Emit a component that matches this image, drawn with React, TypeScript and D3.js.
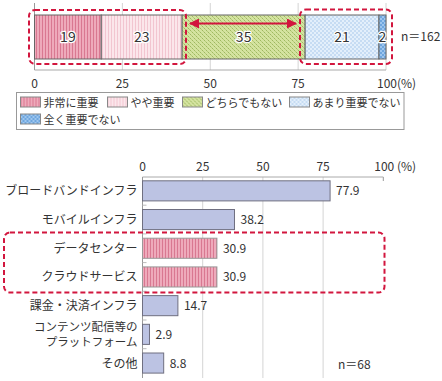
import React, { useEffect, useRef } from "react";
import * as d3 from "d3";

const topCategories = ["非常に重要", "やや重要", "どちらでもない", "あまり重要でない", "全く重要でない"];
const topValues = [19, 23, 35, 21, 2];
const topN = "n＝162";
const xTicks = [0, 25, 50, 75, 100];

const barCategories = [
  "ブロードバンドインフラ",
  "モバイルインフラ",
  "データセンター",
  "クラウドサービス",
  "課金・決済インフラ",
  "コンテンツ配信等の\nプラットフォーム",
  "その他",
];
const barValues = [77.9, 38.2, 30.9, 30.9, 14.7, 2.9, 8.8];
const highlighted = [false, false, true, true, false, false, false];
const bottomN = "n＝68";

const FONT = "'Noto Sans CJK JP', 'Noto Sans', sans-serif";
const RED = "#d2163e";

export default function App() {
  const ref = useRef<SVGSVGElement>(null);

  useEffect(() => {
    const svg = d3.select(ref.current);
    svg.selectAll("*").remove();
    svg.attr("font-family", FONT);

    const defs = svg.append("defs");
    const p1 = defs.append("pattern").attr("id", "p1").attr("width", 3).attr("height", 4).attr("patternUnits", "userSpaceOnUse");
    p1.append("rect").attr("width", 3).attr("height", 4).attr("fill", "#eeaabb");
    p1.append("rect").attr("width", 1).attr("height", 4).attr("fill", "#d97891");

    const p2 = defs.append("pattern").attr("id", "p2").attr("width", 3).attr("height", 4).attr("patternUnits", "userSpaceOnUse");
    p2.append("rect").attr("width", 3).attr("height", 4).attr("fill", "#fbe6eb");
    p2.append("rect").attr("width", 1).attr("height", 4).attr("fill", "#f2c5d0");

    const p3 = defs.append("pattern").attr("id", "p3").attr("width", 4).attr("height", 4).attr("patternUnits", "userSpaceOnUse");
    p3.append("rect").attr("width", 4).attr("height", 4).attr("fill", "#d4e3a0");
    p3.append("rect").attr("x", 0).attr("y", 0).attr("width", 1).attr("height", 1).attr("fill", "#9fb861");
    p3.append("rect").attr("x", 2).attr("y", 2).attr("width", 1).attr("height", 1).attr("fill", "#9fb861");
    p3.append("rect").attr("x", 1).attr("y", 1).attr("width", 1).attr("height", 1).attr("fill", "#b7cc7c");
    p3.append("rect").attr("x", 3).attr("y", 3).attr("width", 1).attr("height", 1).attr("fill", "#b7cc7c");

    const p4 = defs.append("pattern").attr("id", "p4").attr("width", 4).attr("height", 4).attr("patternUnits", "userSpaceOnUse");
    p4.append("rect").attr("width", 4).attr("height", 4).attr("fill", "#e3effb");
    p4.append("rect").attr("x", 0).attr("y", 0).attr("width", 2).attr("height", 2).attr("fill", "#c6dcf3");
    p4.append("rect").attr("x", 2).attr("y", 2).attr("width", 2).attr("height", 2).attr("fill", "#c6dcf3");

    const p5 = defs.append("pattern").attr("id", "p5").attr("width", 4).attr("height", 4).attr("patternUnits", "userSpaceOnUse");
    p5.append("rect").attr("width", 4).attr("height", 4).attr("fill", "#9ec6ee");
    p5.append("rect").attr("x", 0).attr("y", 0).attr("width", 2).attr("height", 2).attr("fill", "#6ea6de");
    p5.append("rect").attr("x", 2).attr("y", 2).attr("width", 2).attr("height", 2).attr("fill", "#6ea6de");

    const pats = ["url(#p1)", "url(#p2)", "url(#p3)", "url(#p4)", "url(#p5)"];

    const mk = defs.append("marker").attr("id", "arrowEnd").attr("viewBox", "0 0 10 10").attr("refX", 9).attr("refY", 5)
      .attr("markerWidth", 5).attr("markerHeight", 5).attr("markerUnits", "strokeWidth").attr("orient", "auto-start-reverse");
    mk.append("path").attr("d", "M0,0 L10,5 L0,10 z").attr("fill", RED);

    // ---------- Top stacked bar ----------
    const xt = d3.scaleLinear().domain([0, 100]).range([34.5, 386]);
    const topY0 = 15, topH = 44, topAxisY = 70;

    const g1 = svg.append("g");
    g1.selectAll("line.grid").data(xTicks.slice(1)).join("line")
      .attr("x1", d => xt(d)).attr("x2", d => xt(d)).attr("y1", 3).attr("y2", topAxisY)
      .attr("stroke", "#d4d4d4").attr("stroke-width", 1);
    g1.append("line").attr("x1", xt(0)).attr("x2", xt(0)).attr("y1", 3).attr("y2", topAxisY).attr("stroke", "#999");
    g1.append("line").attr("x1", xt(0)).attr("x2", xt(100)).attr("y1", topAxisY).attr("y2", topAxisY).attr("stroke", "#aaa");

    const cum = d3.cumsum(topValues);
    const segs = topValues.map((v, i) => ({ v, start: cum[i] - v, end: cum[i], i }));
    g1.selectAll("rect.seg").data(segs).join("rect")
      .attr("x", d => xt(d.start)).attr("y", topY0)
      .attr("width", d => xt(d.end) - xt(d.start)).attr("height", topH)
      .attr("fill", d => pats[d.i]).attr("stroke", "#666").attr("stroke-width", 1);
    g1.selectAll("text.seg").data(segs).join("text")
      .attr("x", d => (xt(d.start) + xt(d.end)) / 2)
      .attr("y", topY0 + topH / 2 + 5)
      .attr("text-anchor", "middle")
      .attr("font-size", 14).attr("fill", "#333")
      .attr("stroke", "#fff").attr("stroke-width", 2.5).attr("paint-order", "stroke").attr("stroke-linejoin", "round")
      .text(d => d.v);

    g1.selectAll("text.tick").data(xTicks).join("text")
      .attr("x", d => (d === 100 ? xt(d) - 9 : xt(d)))
      .attr("y", 88).attr("text-anchor", d => (d === 100 ? "start" : "middle"))
      .attr("font-size", 12).attr("fill", "#333")
      .text(d => (d === 100 ? "100(%)" : String(d)));
    g1.append("text").attr("x", 401).attr("y", 41).attr("font-size", 12).attr("fill", "#333").text(topN);

    g1.append("rect").attr("x", 29).attr("y", 10).attr("width", 157).attr("height", 54).attr("rx", 6)
      .attr("fill", "none").attr("stroke", RED).attr("stroke-width", 2).attr("stroke-dasharray", "5,3");
    g1.append("rect").attr("x", 300).attr("y", 9.5).attr("width", 92).attr("height", 54.5).attr("rx", 6)
      .attr("fill", "none").attr("stroke", RED).attr("stroke-width", 2).attr("stroke-dasharray", "5,3");
    g1.append("line").attr("x1", 190).attr("x2", 296).attr("y1", 23.5).attr("y2", 23.5)
      .attr("stroke", RED).attr("stroke-width", 2)
      .attr("marker-start", "url(#arrowEnd)").attr("marker-end", "url(#arrowEnd)");

    // legend
    const lg = svg.append("g");
    lg.append("rect").attr("x", 16.5).attr("y", 92.5).attr("width", 387.5).attr("height", 37)
      .attr("fill", "#fff").attr("stroke", "#999");
    const legPos = [
      { x: 20.5, y: 97 }, { x: 107.5, y: 97 }, { x: 182.5, y: 97 }, { x: 289.5, y: 97 }, { x: 20.5, y: 114 },
    ];
    const items = lg.selectAll("g.item").data(topCategories).join("g")
      .attr("transform", (d, i) => `translate(${legPos[i].x},${legPos[i].y})`);
    items.append("rect").attr("width", 20).attr("height", 10).attr("fill", (d, i) => pats[i]).attr("stroke", "#888");
    items.append("text").attr("x", 23).attr("y", 9.5).attr("font-size", 11).attr("fill", "#333").text(d => d);

    // ---------- Bottom bar chart ----------
    const xb = d3.scaleLinear().domain([0, 100]).range([142.5, 383.3]);
    const yb = d3.scaleBand<number>().domain(d3.range(barCategories.length)).range([176.5, 377.4]).paddingInner(0.3).paddingOuter(0.15);
    const axisY = 177;
    const bottomY = 378;
    const g2 = svg.append("g");
    g2.selectAll("line.grid").data([25, 50, 75]).join("line")
      .attr("x1", d => xb(d)).attr("x2", d => xb(d)).attr("y1", axisY).attr("y2", bottomY)
      .attr("stroke", "#d4d4d4");
    g2.append("line").attr("x1", xb(100)).attr("x2", xb(100)).attr("y1", axisY).attr("y2", axisY + 4).attr("stroke", "#999");
    g2.append("line").attr("x1", xb(0)).attr("x2", xb(100)).attr("y1", axisY).attr("y2", axisY).attr("stroke", "#aaa");
    g2.append("line").attr("x1", xb(0)).attr("x2", xb(0)).attr("y1", axisY).attr("y2", bottomY).attr("stroke", "#999");
    const step = yb.step();
    g2.selectAll("line.sep").data(d3.range(1, barCategories.length)).join("line")
      .attr("x1", xb(0)).attr("x2", xb(0) + 4)
      .attr("y1", d => 176.5 + d * step).attr("y2", d => 176.5 + d * step)
      .attr("stroke", "#bbb");

    g2.selectAll("text.tick").data(xTicks).join("text")
      .attr("x", d => (d === 100 ? xb(d) - 9 : xb(d)))
      .attr("y", 171).attr("text-anchor", d => (d === 100 ? "start" : "middle"))
      .attr("font-size", 12).attr("fill", "#333")
      .text(d => (d === 100 ? "100 (%)" : String(d)));

    const bars = barValues.map((v, i) => ({ v, i, hl: highlighted[i], label: barCategories[i] }));
    g2.selectAll("rect.bar").data(bars).join("rect")
      .attr("x", xb(0)).attr("y", d => yb(d.i)!)
      .attr("width", d => xb(d.v) - xb(0)).attr("height", yb.bandwidth())
      .attr("fill", d => (d.hl ? "url(#p1)" : "#bcc3e3"))
      .attr("stroke", d => (d.hl ? "#999" : "#6f6f80")).attr("stroke-width", 1);
    g2.selectAll("text.val").data(bars).join("text")
      .attr("x", d => xb(d.v) + 6).attr("y", d => yb(d.i)! + yb.bandwidth() / 2 + 4.5)
      .attr("font-size", 12).attr("fill", "#333").text(d => d.v.toFixed(1));

    const labels = g2.selectAll("text.cat").data(bars).join("text")
      .attr("text-anchor", "end").attr("font-size", 12).attr("fill", "#333");
    labels.each(function (d) {
      const lines = d.label.split("\n");
      const cy = yb(d.i)! + yb.bandwidth() / 2;
      const t = d3.select(this);
      if (lines.length > 1) t.attr("font-size", 11.5);
      lines.forEach((ln, k) => {
        t.append("tspan").attr("x", 137.5)
          .attr("y", cy + 4.5 + (k - (lines.length - 1) / 2) * 15)
          .text(ln);
      });
    });

    g2.append("text").attr("x", 338).attr("y", 369).attr("font-size", 12).attr("fill", "#333").text(bottomN);

    g2.append("rect").attr("x", 4).attr("y", 232.5).attr("width", 380.5).attr("height", 60).attr("rx", 6)
      .attr("fill", "none").attr("stroke", RED).attr("stroke-width", 2).attr("stroke-dasharray", "5,3");
  }, []);

  return (
    <svg ref={ref} width={442} height={381} style={{ position: "absolute", left: 0, top: 0, background: "#fff" }} />
  );
}
